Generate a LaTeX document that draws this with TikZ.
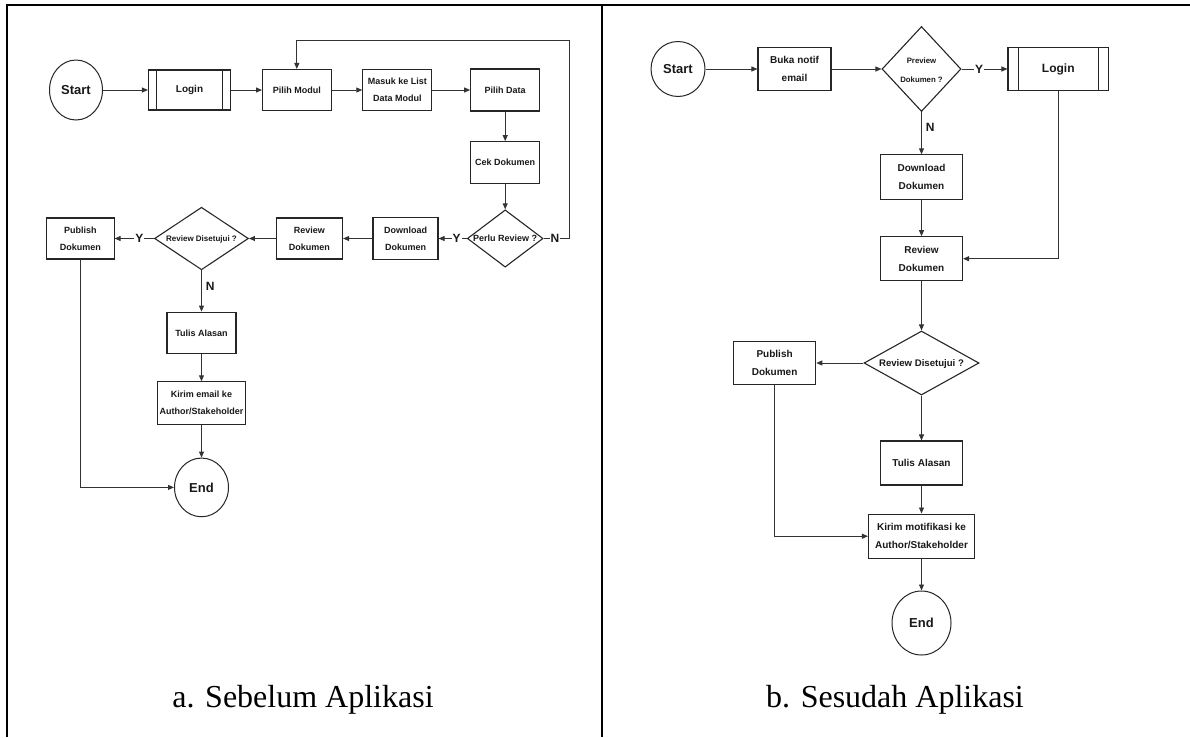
\documentclass[tikz,border=0pt]{standalone}
\usepackage{fontspec}
\setmainfont{Liberation Serif}
\newfontfamily\arial{Liberation Sans}
\usetikzlibrary{shapes.geometric,arrows.meta}
\newcommand\dtext[1]{\makebox[0pt]{\begin{tabular}{@{}c@{}}#1\end{tabular}}}
\begin{document}
\begin{tikzpicture}[x=1pt,y=-1pt,
  nd/.style={draw=black!85,line width=1.1pt,fill=white,inner sep=0pt,text=black!90},
  lbox/.style={nd,rectangle,align=center,font=\arial\bfseries\fontsize{9}{17}\selectfont},
  rbox/.style={nd,rectangle,align=center,font=\arial\bfseries\fontsize{10}{18}\selectfont},
  term/.style={nd,ellipse,line width=1pt,font=\arial\bfseries\fontsize{13}{13}\selectfont},
  dec/.style={nd,diamond},
  conn/.style={draw=black!80,line width=0.9pt,-{Triangle[length=6pt,width=5pt]}},
  lab/.style={font=\arial\bfseries\fontsize{12}{12}\selectfont,fill=white,inner sep=1pt,text=black!90},
  sidelab/.style={font=\arial\bfseries\fontsize{12}{12}\selectfont,inner sep=0pt,text=black!90},
  frame/.style={line width=1.8pt,draw=black}]
\useasboundingbox (0,0) rectangle (1190,737);
% frame
\draw[frame] (7,737) -- (7,5) -- (1190,5);
\draw[frame] (602,5) -- (602,737);
% captions
\node[font=\fontsize{32}{32}\selectfont] (capa) at (303,700) {a. Sebelum Aplikasi};
\node[font=\fontsize{32}{32}\selectfont] (capb) at (895,700) {b. Sesudah Aplikasi};

% ---------- left ----------
\node[term,minimum width=53pt,minimum height=60pt] (ls) at (76,90) {Start};
\node[lbox,minimum width=82pt,minimum height=40pt,font=\arial\bfseries\fontsize{10}{12}\selectfont] (llogin) at (189.5,90) {Login};
\draw[draw=black!85,line width=1pt] ([xshift=8.5pt]llogin.north west) -- ([xshift=8.5pt]llogin.south west)
  ([xshift=-8.5pt]llogin.north east) -- ([xshift=-8.5pt]llogin.south east);
\node[lbox,minimum width=68.5pt,minimum height=41pt] (lpm) at (296.8,90) {Pilih Modul};
\node[lbox,minimum width=69pt,minimum height=41pt] (lml) at (397.3,90) {Masuk ke List\\Data Modul};
\node[lbox,minimum width=69pt,minimum height=42pt] (lpd) at (505.2,90) {Pilih Data};
\node[lbox,minimum width=69pt,minimum height=41.6pt] (lcd) at (505.2,162.5) {Cek Dokumen};
\node[dec,minimum width=75.7pt,minimum height=57.3pt,font=\arial\bfseries\fontsize{9}{17}\selectfont] (lpr) at (505.2,238.5) {\dtext{Perlu Review ?}};
\node[lbox,minimum width=65pt,minimum height=42pt] (ldd) at (405.5,238.5) {Download\\Dokumen};
\node[lbox,minimum width=66.5pt,minimum height=41pt] (lrd) at (309.3,238.5) {Review\\Dokumen};
\node[dec,minimum width=93.8pt,minimum height=62.6pt,font=\arial\bfseries\fontsize{8}{17}\selectfont] (lrs) at (201.5,238.5) {\dtext{Review Disetujui ?}};
\node[lbox,minimum width=67.3pt,minimum height=41pt] (lpub) at (80.4,238.5) {Publish\\Dokumen};
\node[lbox,minimum width=69pt,minimum height=41.7pt] (lta) at (201.5,333) {Tulis Alasan};
\node[lbox,minimum width=88pt,minimum height=42.3pt] (lke) at (201.5,403) {Kirim email ke\\Author/Stakeholder};
\node[term,minimum width=54pt,minimum height=58.7pt] (lend) at (201.5,487.4) {End};
\coordinate (lloop) at (569,40);

\draw[conn] (ls.east) -- (llogin.west);
\draw[conn] (llogin.east) -- (lpm.west);
\draw[conn] (lpm.east) -- (lml.west);
\draw[conn] (lml.east) -- (lpd.west);
\draw[conn] (lpd.south) -- (lcd.north);
\draw[conn] (lcd.south) -- (lpr.north);
\draw[conn] (lpr.east) -- node[lab,pos=0.45]{N} (lpr.east -| lloop) -- (lloop) -| (lpm.north);
\draw[conn] (lpr.west) -- node[lab,pos=0.36]{Y} (ldd.east);
\draw[conn] (ldd.west) -- (lrd.east);
\draw[conn] (lrd.west) -- (lrs.east);
\draw[conn] (lrs.west) -- node[lab,pos=0.37]{Y} (lpub.east);
\draw[conn] (lrs.south) -- node[sidelab,right=4pt,pos=0.4]{N} (lta.north);
\draw[conn] (lta.south) -- (lke.north);
\draw[conn] (lke.south) -- (lend.north);
\draw[conn] (lpub.south) |- (lend.west);

% ---------- right ----------
\node[term,minimum width=54pt,minimum height=55pt] (rs) at (678,69) {Start};
\node[rbox,minimum width=73pt,minimum height=43pt] (rbn) at (794.5,69) {Buka notif\\email};
\node[dec,minimum width=79pt,minimum height=85pt,font=\arial\bfseries\fontsize{7.8}{19}\selectfont] (rpv) at (921.5,69) {\dtext{Preview\\Dokumen ?}};
\node[rbox,minimum width=100.6pt,minimum height=42.6pt,font=\arial\bfseries\fontsize{12}{14}\selectfont] (rlogin) at (1058.3,69) {Login};
\draw[draw=black!85,line width=1pt] ([xshift=11pt]rlogin.north west) -- ([xshift=11pt]rlogin.south west)
  ([xshift=-11pt]rlogin.north east) -- ([xshift=-11pt]rlogin.south east);
\node[rbox,minimum width=82pt,minimum height=44.3pt] (rdd) at (921.5,177) {Download\\Dokumen};
\node[rbox,minimum width=82pt,minimum height=44pt] (rrd) at (921.5,258.7) {Review\\Dokumen};
\node[dec,minimum width=115pt,minimum height=64pt,font=\arial\bfseries\fontsize{9.6}{18}\selectfont] (rrs) at (921.5,363) {\dtext{Review Disetujui ?}};
\node[rbox,minimum width=82.3pt,minimum height=43.3pt] (rpub) at (774.6,363) {Publish\\Dokumen};
\node[rbox,minimum width=82.3pt,minimum height=44pt] (rta) at (921.5,463) {Tulis Alasan};
\node[rbox,minimum width=106pt,minimum height=44.3pt] (rkm) at (921.5,536.2) {Kirim motifikasi ke\\Author/Stakeholder};
\node[term,minimum width=59pt,minimum height=64pt] (rend) at (921.5,623) {End};

\draw[conn] (rs.east) -- (rbn.west);
\draw[conn] (rbn.east) -- (rpv.west);
\draw[conn] (rpv.east) -- node[lab,pos=0.38]{Y} (rlogin.west);
\draw[conn] (rpv.south) -- node[sidelab,right=4pt,pos=0.37]{N} (rdd.north);
\draw[conn] (rdd.south) -- (rrd.north);
\draw[conn] (rlogin.south) |- (rrd.east);
\draw[conn] (rrd.south) -- (rrs.north);
\draw[conn] (rrs.west) -- (rpub.east);
\draw[conn] (rrs.south) -- (rta.north);
\draw[conn] (rta.south) -- (rkm.north);
\draw[conn] (rpub.south) |- (rkm.west);
\draw[conn] (rkm.south) -- (rend.north);
\end{tikzpicture}
\end{document}
